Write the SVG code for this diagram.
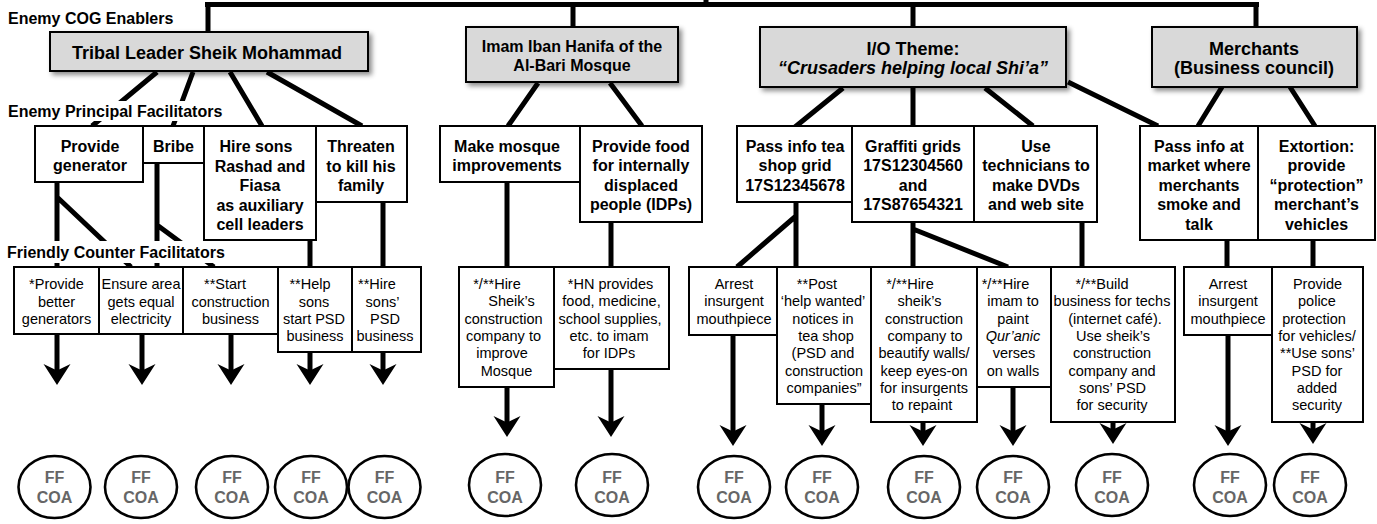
<svg xmlns="http://www.w3.org/2000/svg" width="1377" height="524" viewBox="0 0 1377 524">
<style>
text{font-family:"Liberation Sans",Arial,Helvetica,sans-serif;text-anchor:middle;fill:#000}
.lbl{font-size:16px;font-weight:bold;text-anchor:start}
.top{fill:#d9d9d9;stroke:#000;stroke-width:2;filter:url(#sh)}
.t18{font-size:18px;font-weight:bold}
.t16{font-size:16px;font-weight:bold}
.box{fill:#fff;stroke:#000;stroke-width:2}
.r{font-size:14.5px}
.it{font-style:italic}
.ell{fill:#fff;stroke:#000;stroke-width:2.6}
.ff{font-size:16px;font-weight:bold;fill:#666}
.c{fill:none;stroke:#000;stroke-width:5}
.a{fill:none;stroke:#000;stroke-width:5;marker-end:url(#ah)}
.bg{fill:#fff}
</style>
<defs>
<filter id="sh" x="-10%" y="-20%" width="130%" height="160%">
<feDropShadow dx="3" dy="3" stdDeviation="2.5" flood-color="#000" flood-opacity="0.45"/>
</filter>
<marker id="ah" markerUnits="userSpaceOnUse" viewBox="0 -14 21 28" markerWidth="21" markerHeight="28" refX="8" refY="0" orient="auto">
<path d="M21,0 L0,-13.5 L6.5,0 L0,13.5 Z" fill="#000"/>
</marker>
</defs>

<g id="connectors">
<path class="c" d="M205,4.5 H1259 M706,0 V4.5 M208,4.5 V32 M573,4.5 V27 M913,4.5 V27 M1256,4.5 V27"/>
<path class="c" d="M157,72 L92,126 M193,72 L173,126 M230,72 L262,126 M267,72 L362,126"/>
<path class="c" d="M538,83 L508,126 M610,83 L642,126"/>
<path class="c" d="M843,88 L795,127 M913,88 V126 M985,88 L1033,126 M1068,82 L1158,126"/>
<path class="c" d="M1222,87 L1198,126 M1290,87 L1315,126"/>
<path class="c" d="M57,182 V267 M57,197 L131,267 M157,163 V267 M157,225 L214,267 M310,240 V267 M383,202 V267"/>
<path class="c" d="M507,182 V267 M611,222 V267"/>
<path class="c" d="M796,202 V267 M796,216 L737,267 M913,222 V267 M913,229 L1008,267 M1082,222 V267"/>
<path class="c" d="M1227,240 V267 M1313,240 V267"/>
<path class="a" d="M57,334 V372"/>
<path class="a" d="M142,334 V372"/>
<path class="a" d="M231,334 V372"/>
<path class="a" d="M310,352 V372"/>
<path class="a" d="M383,352 V372"/>
<path class="a" d="M507,387 V424"/>
<path class="a" d="M611,369 V424"/>
<path class="a" d="M733,335 V433"/>
<path class="a" d="M822,404 V433"/>
<path class="a" d="M923,422 V433"/>
<path class="a" d="M1013,387 V433"/>
<path class="a" d="M1113,422 V431"/>
<path class="a" d="M1228,335 V433"/>
<path class="a" d="M1313,422 V431"/>
</g>

<g id="label-cog"><text class="lbl" x="8" y="24">Enemy COG Enablers</text></g>

<g id="n-tribal"><rect class="top" x="50" y="32" width="318" height="39"/><text class="t18" x="207" y="59">Tribal Leader Sheik Mohammad</text></g>
<g id="n-imam"><rect class="top" x="466" y="27" width="212" height="55"/><text class="t16" x="572" y="52">Imam Iban Hanifa of the</text><text class="t16" x="572" y="71">Al-Bari Mosque</text></g>
<g id="n-io"><rect class="top" x="760" y="27" width="306" height="60"/><text class="t18" x="913" y="55">I/O Theme:</text><text class="t18 it" x="913" y="74">“Crusaders helping local Shi’a”</text></g>
<g id="n-merchants"><rect class="top" x="1152" y="27" width="205" height="60"/><text class="t18" x="1254" y="55">Merchants</text><text class="t18" x="1254" y="74">(Business council)</text></g>

<g id="n-generator"><rect class="box" x="35" y="126" width="108" height="56"/><text class="t16" x="90" y="152">Provide</text><text class="t16" x="90" y="171">generator</text></g>
<g id="n-bribe"><rect class="box" x="143" y="126" width="61" height="37"/><text class="t16" x="173.5" y="152">Bribe</text></g>
<g id="n-hiresons"><rect class="box" x="204" y="126" width="112" height="114"/><text class="t16" x="256" y="152">Hire sons</text><text class="t16" x="260" y="171.5">Rashad and</text><text class="t16" x="260" y="191">Fiasa</text><text class="t16" x="260" y="210.5">as auxiliary</text><text class="t16" x="260" y="230">cell leaders</text></g>
<g id="n-threaten"><rect class="box" x="316" y="126" width="91" height="76"/><text class="t16" x="361" y="152">Threaten</text><text class="t16" x="361" y="171.5">to kill his</text><text class="t16" x="361" y="191">family</text></g>
<g id="n-mosque"><rect class="box" x="440" y="126" width="140" height="56"/><text class="t16" x="507" y="152">Make mosque</text><text class="t16" x="507" y="171">improvements</text></g>
<g id="n-food"><rect class="box" x="580" y="126" width="122" height="96"/><text class="t16" x="641" y="152">Provide food</text><text class="t16" x="641" y="171">for internally</text><text class="t16" x="641" y="190.5">displaced</text><text class="t16" x="641" y="210">people (IDPs)</text></g>
<g id="n-tea"><rect class="box" x="737" y="126" width="115" height="76"/><text class="t16" x="795" y="152">Pass info tea</text><text class="t16" x="795" y="171">shop grid</text><text class="t16" x="795" y="190.5">17S12345678</text></g>
<g id="n-graffiti"><rect class="box" x="852" y="126" width="122" height="96"/><text class="t16" x="913" y="152">Graffiti grids</text><text class="t16" x="913" y="171">17S12304560</text><text class="t16" x="913" y="190.5">and</text><text class="t16" x="913" y="210">17S87654321</text></g>
<g id="n-tech"><rect class="box" x="974" y="126" width="123" height="96"/><text class="t16" x="1036" y="152">Use</text><text class="t16" x="1036" y="171">technicians to</text><text class="t16" x="1036" y="190.5">make DVDs</text><text class="t16" x="1036" y="210">and web site</text></g>
<g id="n-market"><rect class="box" x="1140" y="126" width="118" height="114"/><text class="t16" x="1199" y="152">Pass info at</text><text class="t16" x="1199" y="171">market where</text><text class="t16" x="1199" y="190.5">merchants</text><text class="t16" x="1199" y="210">smoke and</text><text class="t16" x="1199" y="229.5">talk</text></g>
<g id="n-extortion"><rect class="box" x="1258" y="126" width="117" height="114"/><text class="t16" x="1316.5" y="152">Extortion:</text><text class="t16" x="1316.5" y="171">provide</text><text class="t16" x="1316.5" y="190.5">“protection”</text><text class="t16" x="1316.5" y="210">merchant’s</text><text class="t16" x="1316.5" y="229.5">vehicles</text></g>

<g id="n-f1"><rect class="box" x="14" y="267" width="85" height="67"/><text class="r" x="56.5" y="289">*Provide</text><text class="r" x="56.5" y="306.5">better</text><text class="r" x="56.5" y="324">generators</text></g>
<g id="n-f2"><rect class="box" x="99" y="267" width="84" height="67"/><text class="r" x="141" y="289">Ensure area</text><text class="r" x="141" y="306.5">gets equal</text><text class="r" x="141" y="324">electricity</text></g>
<g id="n-f3"><rect class="box" x="183" y="267" width="95" height="67"/><text class="r" x="225" y="289">**Start</text><text class="r" x="230.5" y="306.5">construction</text><text class="r" x="230.5" y="324">business</text></g>
<g id="n-f4"><rect class="box" x="278" y="267" width="74" height="85"/><text class="r" x="310" y="289">**Help</text><text class="r" x="314" y="306.5">sons</text><text class="r" x="314" y="324">start PSD</text><text class="r" x="315" y="341">business</text></g>
<g id="n-f5"><rect class="box" x="352" y="267" width="69" height="85"/><text class="r" x="377" y="289">**Hire</text><text class="r" x="382.5" y="306.5">sons’</text><text class="r" x="385" y="324">PSD</text><text class="r" x="385" y="341">business</text></g>

<g id="n-m1"><rect class="box" x="459" y="267" width="95" height="120"/><text class="r" x="497" y="289">*/**Hire</text><text class="r" x="511.5" y="306.3">Sheik’s</text><text class="r" x="503.5" y="323.6">construction</text><text class="r" x="503.5" y="340.9">company to</text><text class="r" x="502" y="358.2">improve</text><text class="r" x="506.5" y="375.5">Mosque</text></g>
<g id="n-m2"><rect class="box" x="554" y="267" width="115" height="102"/><text class="r" x="610.5" y="289">*HN provides</text><text class="r" x="611.5" y="306.3">food, medicine,</text><text class="r" x="610" y="323.6">school supplies,</text><text class="r" x="609" y="340.9">etc. to imam</text><text class="r" x="609" y="358.2">for IDPs</text></g>

<g id="n-i1"><rect class="box" x="689" y="267" width="88" height="68"/><text class="r" x="734" y="289">Arrest</text><text class="r" x="734" y="306.3">insurgent</text><text class="r" x="734" y="323.6">mouthpiece</text></g>
<g id="n-i2"><rect class="box" x="777" y="267" width="94" height="137"/><text class="r" x="817" y="289">**Post</text><text class="r" x="823" y="306.3">‘help wanted’</text><text class="r" x="823" y="323.6">notices in</text><text class="r" x="826" y="340.9">tea shop</text><text class="r" x="823" y="358.2">(PSD and</text><text class="r" x="824" y="375.5">construction</text><text class="r" x="824" y="392.8">companies”</text></g>
<g id="n-i3"><rect class="box" x="871" y="267" width="106" height="155"/><text class="r" x="910" y="289">*/**Hire</text><text class="r" x="919.5" y="306.3">sheik’s</text><text class="r" x="924" y="323.6">construction</text><text class="r" x="925" y="340.9">company to</text><text class="r" x="924" y="358.2">beautify walls/</text><text class="r" x="924" y="375.5">keep eyes-on</text><text class="r" x="924" y="392.8">for insurgents</text><text class="r" x="922" y="410.1">to repaint</text></g>
<g id="n-i4"><rect class="box" x="977" y="267" width="74" height="120"/><text class="r" x="1005.5" y="289">*/**Hire</text><text class="r" x="1013" y="306.3">imam to</text><text class="r" x="1013" y="323.6">paint</text><text class="r it" x="1013" y="340.9">Qur’anic</text><text class="r" x="1014" y="358.2">verses</text><text class="r" x="1013" y="375.5">on walls</text></g>
<g id="n-i5"><rect class="box" x="1051" y="267" width="124" height="155"/><text class="r" x="1102" y="289">*/**Build</text><text class="r" x="1112" y="306.3">business for techs</text><text class="r" x="1115" y="323.6">(internet café).</text><text class="r" x="1113" y="340.9">Use sheik’s</text><text class="r" x="1112" y="358.2">construction</text><text class="r" x="1112" y="375.5">company and</text><text class="r" x="1112.5" y="392.8">sons’ PSD</text><text class="r" x="1112" y="410.1">for security</text></g>
<g id="n-b1"><rect class="box" x="1184" y="267" width="88" height="68"/><text class="r" x="1228" y="289">Arrest</text><text class="r" x="1228" y="306.3">insurgent</text><text class="r" x="1228" y="323.6">mouthpiece</text></g>
<g id="n-b2"><rect class="box" x="1272" y="267" width="91" height="155"/><text class="r" x="1317.5" y="289">Provide</text><text class="r" x="1317" y="306.3">police</text><text class="r" x="1314" y="323.6">protection</text><text class="r" x="1317" y="340.9">for vehicles/</text><text class="r" x="1317.5" y="358.2">**Use sons’</text><text class="r" x="1317" y="375.5">PSD for</text><text class="r" x="1317" y="392.8">added</text><text class="r" x="1317" y="410.1">security</text></g>

<g id="coa-1"><ellipse class="ell" cx="54.5" cy="487" rx="36" ry="31"/><text class="ff" x="54.5" y="483">FF</text><text class="ff" x="54.5" y="503">COA</text></g>
<g id="coa-2"><ellipse class="ell" cx="141" cy="487" rx="36" ry="31"/><text class="ff" x="141" y="483">FF</text><text class="ff" x="141" y="503">COA</text></g>
<g id="coa-3"><ellipse class="ell" cx="232" cy="487" rx="36" ry="31"/><text class="ff" x="232" y="483">FF</text><text class="ff" x="232" y="503">COA</text></g>
<g id="coa-4"><ellipse class="ell" cx="311" cy="487" rx="36" ry="31"/><text class="ff" x="311" y="483">FF</text><text class="ff" x="311" y="503">COA</text></g>
<g id="coa-5"><ellipse class="ell" cx="384.5" cy="487" rx="36" ry="31"/><text class="ff" x="384.5" y="483">FF</text><text class="ff" x="384.5" y="503">COA</text></g>
<g id="coa-6"><ellipse class="ell" cx="505" cy="485" rx="36" ry="31"/><text class="ff" x="505" y="483">FF</text><text class="ff" x="505" y="503">COA</text></g>
<g id="coa-7"><ellipse class="ell" cx="612" cy="485" rx="36" ry="31"/><text class="ff" x="612" y="483">FF</text><text class="ff" x="612" y="503">COA</text></g>
<g id="coa-8"><ellipse class="ell" cx="734" cy="487" rx="36" ry="31"/><text class="ff" x="734" y="483">FF</text><text class="ff" x="734" y="503">COA</text></g>
<g id="coa-9"><ellipse class="ell" cx="822" cy="487" rx="36" ry="31"/><text class="ff" x="822" y="483">FF</text><text class="ff" x="822" y="503">COA</text></g>
<g id="coa-10"><ellipse class="ell" cx="924" cy="487" rx="36" ry="31"/><text class="ff" x="924" y="483">FF</text><text class="ff" x="924" y="503">COA</text></g>
<g id="coa-11"><ellipse class="ell" cx="1013" cy="487" rx="36" ry="31"/><text class="ff" x="1013" y="483">FF</text><text class="ff" x="1013" y="503">COA</text></g>
<g id="coa-12"><ellipse class="ell" cx="1112" cy="485" rx="36" ry="31"/><text class="ff" x="1112" y="483">FF</text><text class="ff" x="1112" y="503">COA</text></g>
<g id="coa-13"><ellipse class="ell" cx="1230" cy="485" rx="36" ry="31"/><text class="ff" x="1230" y="483">FF</text><text class="ff" x="1230" y="503">COA</text></g>
<g id="coa-14"><ellipse class="ell" cx="1310" cy="485" rx="36" ry="31"/><text class="ff" x="1310" y="483">FF</text><text class="ff" x="1310" y="503">COA</text></g>

<g id="label-epf"><rect class="bg" x="4" y="101" width="228" height="20"/><text class="lbl" x="8" y="117">Enemy Principal Facilitators</text></g>
<g id="label-fcf"><rect class="bg" x="4" y="241" width="230" height="22"/><text class="lbl" x="7" y="258">Friendly Counter Facilitators</text></g>
</svg>
